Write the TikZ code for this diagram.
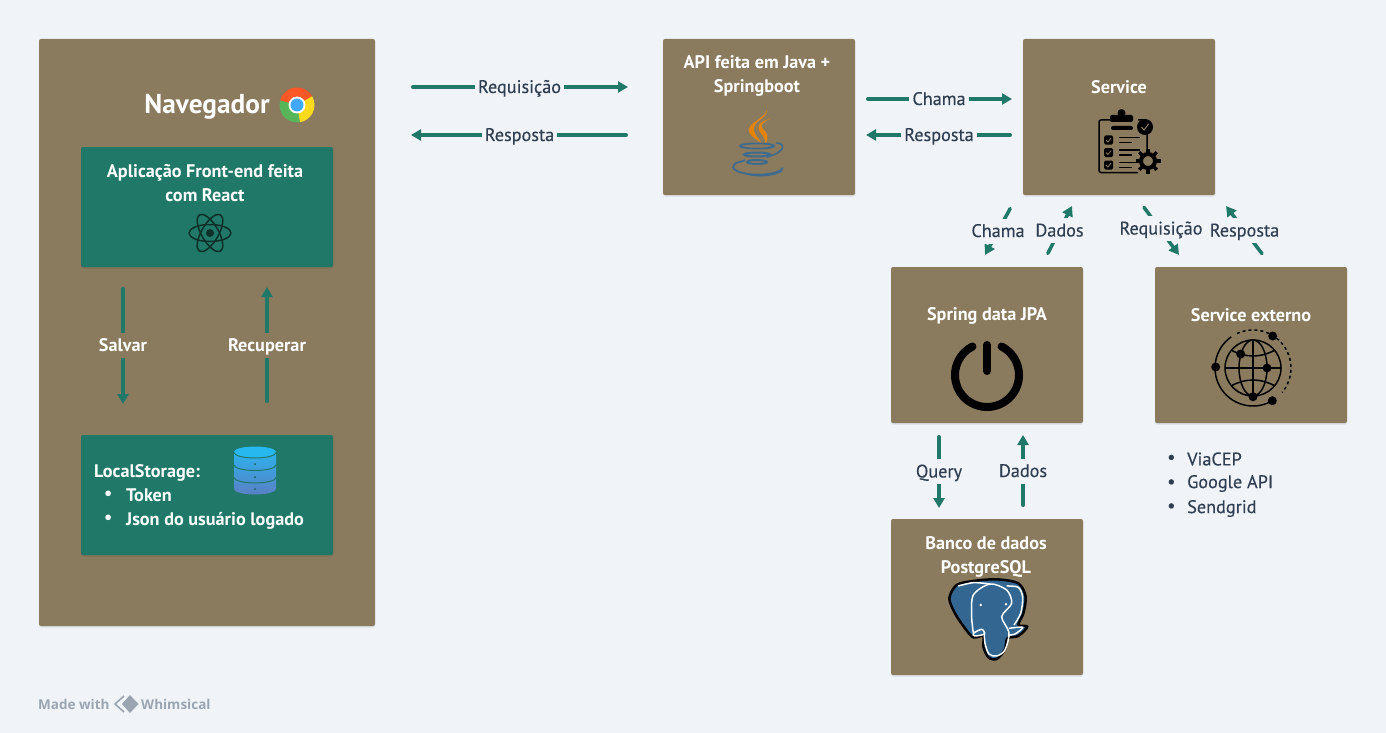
\documentclass[tikz,border=0pt]{standalone}
\usepackage{fontspec}
\setmainfont{PT Sans}
\newfontfamily\labelfont[FakeBold=0.3]{PT Sans}
\newfontfamily\logofont{Open Sans}
\usepackage{tikz}
\usetikzlibrary{calc, arrows.meta, shadows}
\usepackage{tkz-euclide}
\usepackage{xcolor}
\definecolor{pagebg}{HTML}{F0F4F8}
\definecolor{cardbrown}{HTML}{8A7A5E}
\definecolor{cardteal}{HTML}{207868}
\definecolor{inkdark}{HTML}{2F3E50}
\definecolor{pgblue}{HTML}{336791}
\definecolor{logogray}{HTML}{9AA5B1}
\definecolor{basetop}{HTML}{27B8F0}
\definecolor{basebottom}{HTML}{5A80C5}
\tikzset{
  card/.style={fill=cardbrown, rounded corners=2pt, inner sep=0pt, outer sep=0pt, minimum width=192pt, minimum height=156pt,
    general shadow={fill=black, opacity=.08, shadow yshift=-1.5pt}},
  panel/.style={card, fill=cardteal, minimum width=252pt, minimum height=120pt},
  cardtext/.style={text=white, align=center, inner sep=0pt, font=\fontsize{18.2}{24}\bfseries\selectfont},
  listtext/.style={cardtext, align=left, anchor=west},
  conn/.style={draw=cardteal, line width=3.5pt, line cap=round, shorten <=1.75pt, -{Triangle[length=10pt, width=11pt]}},
  connlabel/.style={fill=pagebg, text=inkdark, inner xsep=3pt, inner ysep=3.5pt, text height=15pt, text depth=3pt, font=\labelfont\fontsize{18.2}{20}\selectfont},
  panellabel/.style={connlabel, fill=cardbrown, text=white, font=\fontsize{18.2}{20}\bfseries\selectfont},
  bulletlist/.style={text=inkdark, anchor=west, inner sep=0pt, font=\labelfont\fontsize{18.2}{20}\selectfont},
  logotext/.style={anchor=west, inner sep=0pt, text=logogray, font=\logofont\fontsize{13.5}{16}\bfseries\selectfont}
}
\begin{document}
\begin{tikzpicture}[x=1pt, y=-1pt]
            \useasboundingbox (0,0) rectangle (1386,733);
            \fill[pagebg] (0,0) rectangle (1386,733);
            \tkzDefPoints{411/87/ReqA, 628/87/ReqB, 628/135/RespA, 411/135/RespB,
                866/99/ChamaA, 1012/99/ChamaB, 1012/135/BackA, 866/135/BackB,
                1011/207/JpaA, 985/255/JpaB, 1047/255/DadosA, 1072/206/DadosB,
                1143/206/ExtA, 1179/255/ExtB, 1263/255/ExtBackA, 1226/206/ExtBackB,
                123/287/SaveA, 123/404/SaveB, 267/403/LoadA, 267/287/LoadB,
                939/435/QueryA, 939/508/QueryB, 1023/507/RowsA, 1023/435/RowsB}
            \node[card, minimum width=336pt, minimum height=587pt] (Browser) at (207,332.5) {};
            \node[panel] (Front) at (207,207) {};
            \node[panel] (Storage) at (207,495) {};
            \node[card] (Api) at (759,117) {};
            \node[card] (Service) at (1119,117) {};
            \node[card] (Jpa) at (987,345) {};
            \node[card] (External) at (1251,345) {};
            \node[card] (Postgres) at (987,597) {};
            \node[cardtext, font=\fontsize{27.3}{28}\bfseries\selectfont] (BrowserText) at (207,106.5) {Navegador};
            \node[cardtext] (FrontText) at (205,183) {Aplicação Front-end feita\\com React};
            \node[cardtext] (ApiText) at (757,75.5) {API feita em Java +\\Springboot};
            \node[cardtext] (ServiceText) at (1119,87.5) {Service};
            \node[cardtext] (JpaText) at (987,316) {Spring data JPA};
            \node[cardtext] (ExternalText) at (1251,315.5) {Service externo};
            \node[cardtext] (PostgresText) at (986,556.5) {Banco de dados\\PostgreSQL};
            \node[listtext] (StorageHead) at (94,472.5) {LocalStorage:};
            \node[listtext] (StorageDotA) at (104,495) {•};
            \node[listtext] (StorageDotB) at (104,519.5) {•};
            \node[listtext] (StorageToken) at (126,495) {Token};
            \node[listtext] (StorageUser) at (126,520.5) {Json do usuário logado};
            \node[bulletlist] (ViaDot) at (1167,459) {•};
            \node[bulletlist] (GoogleDot) at (1167,483.5) {•};
            \node[bulletlist] (SendDot) at (1167,507.5) {•};
            \node[bulletlist] (Via) at (1187,459) {ViaCEP};
            \node[bulletlist] (Google) at (1187,483.5) {Google API};
            \node[bulletlist] (Send) at (1187,508.5) {Sendgrid};
            \draw[conn] (ReqA) -- node[connlabel] (ReqText) {Requisição} (ReqB);
            \draw[conn] (RespA) -- node[connlabel] (RespText) {Resposta} (RespB);
            \draw[conn] (ChamaA) -- node[connlabel] (ChamaText) {Chama} (ChamaB);
            \draw[conn] (BackA) -- node[connlabel] (BackText) {Resposta} (BackB);
            \draw[conn] (JpaA) -- node[connlabel] (JpaLabel) {Chama} (JpaB);
            \draw[conn] (DadosA) -- node[connlabel] (DadosLabel) {Dados} (DadosB);
            \draw[conn] (ExtA) -- node[connlabel, yshift=2pt] (ExtLabel) {Requisição} (ExtB);
            \draw[conn] (ExtBackA) -- node[connlabel] (ExtBackLabel) {Resposta} (ExtBackB);
            \draw[conn] (SaveA) -- node[panellabel] (SaveLabel) {Salvar} (SaveB);
            \draw[conn] (LoadA) -- node[panellabel] (LoadLabel) {Recuperar} (LoadB);
            \draw[conn] (QueryA) -- node[connlabel] (QueryLabel) {Query} (QueryB);
            \draw[conn] (RowsA) -- node[connlabel] (RowsLabel) {Dados} (RowsB);
            \tkzDefPoints{297/105/Chrome, 210/233/React, 255/471/Base, 987/375/Power, 1253/368/Globe}
            \fill[red!55!orange!85!white] (Chrome) -- ++(-165:17.5) arc (-165:-30:17.5) -- cycle;
            \fill[green!55!black!65!white] (Chrome) -- ++(-165:17.5) arc (-165:-280:17.5) -- cycle;
            \fill[yellow!75!orange!90!white] (Chrome) -- ++(-30:17.5) arc (-30:80:17.5) -- cycle;
            \fill[white] (Chrome) circle (8.5);
            \fill[blue!45!cyan!75!white] (Chrome) circle (6.5);
            \foreach \tilt in {0, 60, 120}
                \draw[line width=1.5pt, black!60!cardteal, rotate around={\tilt:(React)}] (React) ellipse (21 and 8.5);
            \fill[black!60!cardteal] (React) circle (4);
            \shade[top color=basetop, bottom color=basebottom] (234,452) arc (180:360:21 and 5) -- (276,489) arc (0:180:21 and 5.5) -- cycle;
            \fill[basetop] (255,452) ellipse (21 and 5.5);
            \foreach \rim in {452.5, 465, 477.5}
                \draw[line width=1pt, cardteal] (234,\rim) arc (180:0:21 and 5.5);
            \foreach \spot in {464, 477, 489}
                \fill[cardteal!80!black] (255,\spot) circle (1);
            \fill[orange!85!yellow!90!black] (767,105) .. controls (771,118) and (745,122) .. (749,132) .. controls (751,137) and (758,140) .. (762,144) .. controls (757,135) and (751,132) .. (755,125) .. controls (758,119) and (769,118) .. (767,105) -- cycle;
            \fill[orange!85!yellow!90!black] (772,118) .. controls (762,121) and (755,125) .. (760,132) .. controls (763,136) and (766,139) .. (765,144) .. controls (770,138) and (767,132) .. (762,128) .. controls (760,125) and (764,121) .. (772,118) -- cycle;
            \draw[line width=1.8pt, pgblue!85!gray] (757,146) ellipse (17 and 2.6);
            \draw[line width=2pt, pgblue!85!gray] (757,154.5) ellipse (13 and 2);
            \draw[line width=2pt, pgblue!85!gray] (757,162) ellipse (10 and 2);
            \draw[line width=1.6pt, pgblue!85!gray] (776,143) .. controls (786,143) and (786,152) .. (767,157);
            \draw[line width=1.8pt, pgblue!85!gray] (733,168) .. controls (735,160) and (738,164) .. (745,160);
            \draw[line width=1.8pt, pgblue!85!gray] (733,167) .. controls (735,176) and (775,178) .. (783,168);
            \draw[line width=1.2pt, pgblue!85!gray] (744,173) .. controls (755,178) and (775,176) .. (782,171);
            \draw[black, line width=1.5pt, rounded corners=2pt] (1138,120) -- (1147,120) -- (1147,150) (1138,172.5) -- (1099,172.5) -- (1099,120) -- (1110,120);
            \fill[black, rounded corners=2pt] (1110,115) rectangle (1133,122);
            \fill[black] (1121.5,113) circle (4);
            \fill[black, rounded corners=2pt] (1111,126) rectangle (1133,130);
            \fill[black] (1145,127) circle (8);
            \draw[cardbrown, line width=1pt] (1141.5,127) -- (1144,130) -- (1148.5,124);
            \foreach \row in {140, 152.5, 165} {
                \fill[black, rounded corners=1.5pt] (1104,\row-4.5) rectangle (1113,\row+4.5);
                \draw[cardbrown, line width=.8pt] (1106,\row) -- (1108,\row+2) -- (1111,\row-2);
                \draw[black, line width=1.5pt] (1119,\row-2.5) -- (1140,\row-2.5) (1119,\row+2.5) -- (1132,\row+2.5);
            }
            \foreach \tooth in {0, 45, ..., 315}
                \draw[black, line width=3.5pt] (1148,161) ++(\tooth:8) -- ++(\tooth:4.5);
            \draw[black, line width=4pt] (1148,161) circle (7);
            \draw[black, line width=8pt, line cap=round] (Power) ++(-63:32) arc (-63:243:32);
            \draw[black, line width=8pt, line cap=round] (987,345) -- (987,371);
            \draw[black, line width=1.5pt] (Globe) circle (28);
            \draw[black, line width=1.5pt] (Globe) ellipse (14 and 28);
            \draw[black, line width=1.5pt] (1253,340) -- (1253,396) (1225,368) -- (1281,368);
            \draw[black, line width=1.5pt] (1231,350) .. controls (1245,358) and (1261,358) .. (1275,350);
            \draw[black, line width=1.5pt] (1231,386) .. controls (1245,378) and (1261,378) .. (1275,386);
            \draw[black, line width=1.5pt] (Globe) ++(-125:38) arc (-125:-297:38);
            \draw[black, line width=1.5pt, dashed] (Globe) ++(-115:38) arc (-115:40:38);
            \foreach \hub in {(1272.7,336), (1240.7,354), (1267,368), (1215.7,367), (1253,396.7), (1272.3,400.7)}
                \fill[black] \hub circle (4.5);
            \begin{scope}[shift={(890,510)}, x=0.3333pt, y=-0.3333pt]
                \draw[black, fill=pgblue, line width=2.5pt, line join=round] plot[smooth cycle] coordinates {(178,265) (200,225) (250,213) (320,208) (385,220) (407,260) (400,310) (385,345) (412,350) (385,378) (352,385) (345,418) (320,447) (295,442) (280,410) (280,378) (250,382) (225,355) (195,310)};
                \draw[white, line width=1.5pt] plot[smooth] coordinates {(250,368) (245,320) (250,255) (300,222) (350,240) (365,280) (335,320) (357,368) (345,420) (320,438) (297,432) (285,400) (283,368)};
                \draw[white, line width=1.5pt] plot[smooth] coordinates {(205,228) (250,218) (300,222)};
                \draw[white, line width=1.5pt] plot[smooth] coordinates {(350,228) (385,232) (398,262) (392,310) (372,345)};
                \draw[white, line width=1.5pt] plot[smooth cycle] coordinates {(250,370) (275,358) (283,372) (255,378)};
                \draw[white, line width=1.5pt] plot[smooth] coordinates {(357,355) (398,352) (375,372) (355,375)};
                \fill[white] (272,285) circle (4) (348,283) circle (4);
            \end{scope}
            \node[logotext] (MadeWith) at (38,704) {Made with};
            \node[logotext] (Maker) at (141,704) {Whimsical};
            \fill[logogray] (122,704) -- (130,695) -- (138.5,704) -- (130,713) -- cycle;
            \draw[logogray, line width=1.6pt] (124,696) -- (115,704) -- (124,712);
        \end{tikzpicture}
\end{document}
